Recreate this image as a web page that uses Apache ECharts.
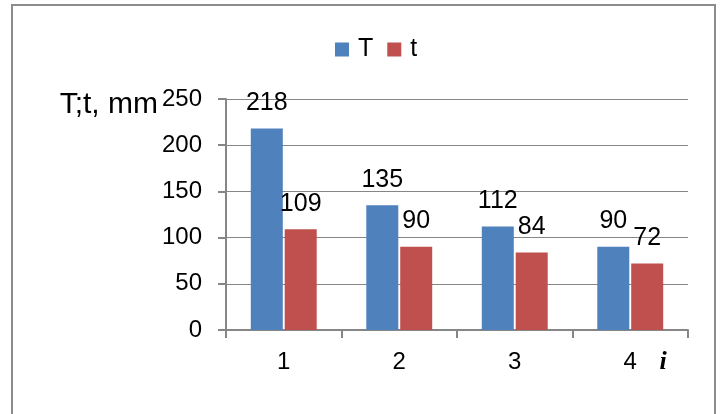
<!DOCTYPE html>
<html>
<head>
<meta charset="utf-8">
<script src="https://cdn.jsdelivr.net/npm/echarts@6/dist/echarts.min.js"></script>
<style>
  html, body { margin: 0; padding: 0; background: #fff; }
  #chart { width: 721px; height: 414px; }
</style>
</head>
<body>
<div id="chart"></div>
<script>
// Dimensions per stage i
const categories = ['1', '2', '3', '4'];
const seriesT = [218, 135, 112, 90];
const seriesSmallT = [109, 90, 84, 72];
const yTicks = { min: 0, max: 250, interval: 50 };

const FONT = "'Liberation Sans', Arial, sans-serif";
const AXIS_GRAY = '#868686';

const chart = echarts.init(document.getElementById('chart'), null, { renderer: 'canvas' });

const labelStyle = {
  show: true,
  position: 'top',
  distance: 13,
  color: '#000',
  fontFamily: FONT,
  fontSize: 25
};

chart.setOption({
  animation: false,
  backgroundColor: '#fff',
  legend: {
    left: 330,
    top: 32,
    itemWidth: 14,
    itemHeight: 14,
    itemGap: 14,
    icon: 'rect',
    textStyle: { fontFamily: FONT, fontSize: 25, color: '#000', padding: [0, 0, 0, 4] },
    data: ['T', 't']
  },
  grid: { left: 226, right: 33, top: 99, bottom: 84, containLabel: false },
  xAxis: {
    type: 'category',
    data: categories,
    axisLine: { lineStyle: { color: AXIS_GRAY, width: 2 } },
    axisTick: { show: true, length: 8, lineStyle: { color: AXIS_GRAY, width: 2 } },
    axisLabel: { color: '#000', fontFamily: FONT, fontSize: 24, margin: 20 }
  },
  yAxis: {
    type: 'value',
    min: yTicks.min,
    max: yTicks.max,
    interval: yTicks.interval,
    axisLine: { show: true, lineStyle: { color: AXIS_GRAY, width: 2 } },
    axisTick: { show: true, length: 8, lineStyle: { color: AXIS_GRAY, width: 2 } },
    axisLabel: { color: '#000', fontFamily: FONT, fontSize: 24, margin: 24 },
    splitLine: { show: true, lineStyle: { color: AXIS_GRAY, width: 1 } }
  },
  series: [
    {
      name: 'T',
      type: 'bar',
      data: seriesT,
      barWidth: 32,
      barGap: '6%',
      itemStyle: { color: '#4F81BD' },
      label: labelStyle
    },
    {
      name: 't',
      type: 'bar',
      data: seriesSmallT,
      barWidth: 32,
      barGap: '6%',
      itemStyle: { color: '#C0504D' },
      label: labelStyle
    }
  ],
  graphic: [
    {
      type: 'rect',
      shape: { x: 12, y: 5, width: 703, height: 500 },
      style: { fill: 'none', stroke: '#8c8c8c', lineWidth: 2 },
      silent: true
    },
    {
      type: 'text',
      x: 158,
      y: 105,
      style: {
        text: 'T;t, mm',
        fill: '#000',
        font: "30px 'Liberation Sans', Arial, sans-serif",
        textAlign: 'right',
        textVerticalAlign: 'middle'
      }
    },
    {
      type: 'text',
      x: 663,
      y: 362,
      style: {
        text: 'i',
        fill: '#000',
        font: "italic bold 26px 'Liberation Serif', 'Times New Roman', serif",
        textAlign: 'center',
        textVerticalAlign: 'middle'
      }
    }
  ]
});
</script>
</body>
</html>
